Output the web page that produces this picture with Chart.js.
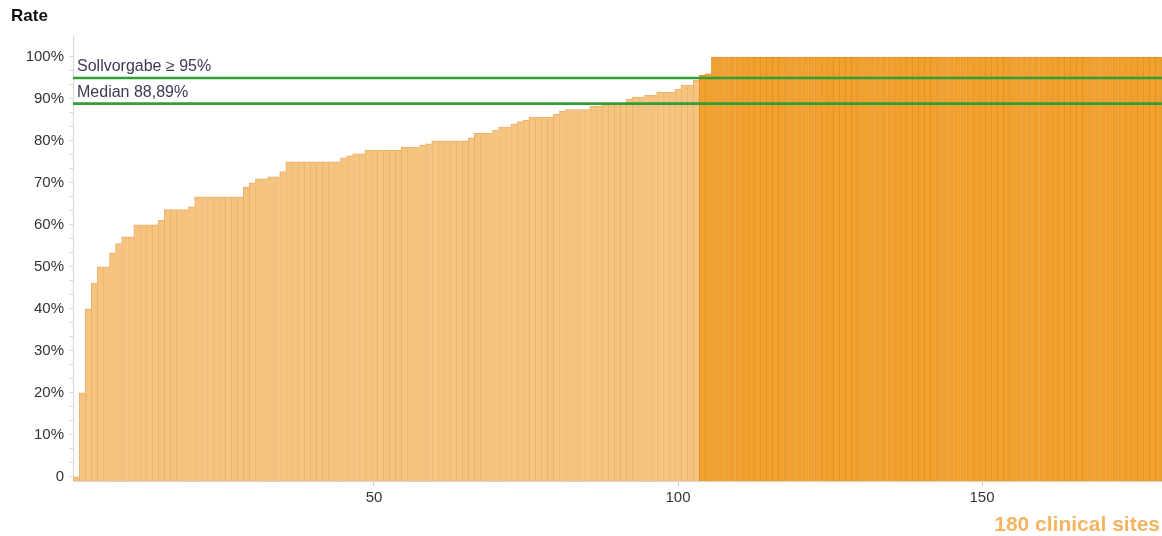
<!DOCTYPE html>
<html>
<head>
<meta charset="utf-8">
<script src="https://cdn.jsdelivr.net/npm/chart.js@4.4.1/dist/chart.umd.min.js"></script>
<style>
  html, body { margin: 0; padding: 0; background: #ffffff; overflow: hidden; }
  #wrap { position: relative; width: 1162px; height: 536px; }
</style>
</head>
<body>
<div id="wrap"><canvas id="c" width="1162" height="536"></canvas></div>
<script>
// ---- data ----
const siteRates = [
  0, 20, 40, 46.15, 50, 50, 53.33, 55.56, 57.14, 57.14,
  60, 60, 60, 60, 61.11, 63.64, 63.64, 63.64, 63.64, 64.29,
  66.67, 66.67, 66.67, 66.67, 66.67, 66.67, 66.67, 66.67, 68.97, 70,
  70.97, 70.97, 71.43, 71.43, 72.73, 75, 75, 75, 75, 75,
  75, 75, 75, 75, 76, 76.47, 76.92, 76.92, 77.78, 77.78,
  77.78, 77.78, 77.78, 77.78, 78.57, 78.57, 78.57, 78.95, 79.31, 80,
  80, 80, 80, 80, 80, 80.77, 81.82, 81.82, 81.82, 82.61,
  83.33, 83.33, 84, 84.62, 85, 85.71, 85.71, 85.71, 85.71, 86.36,
  87.1, 87.5, 87.5, 87.5, 87.5, 88.24, 88.24, 88.89, 88.89, 88.89,
  88.89, 90, 90.48, 90.48, 90.91, 90.91, 91.67, 91.67, 91.67, 92.31,
  93.33, 93.33, 94.44, 95.65, 96, 100, 100, 100, 100, 100,
  100, 100, 100, 100, 100, 100, 100, 100, 100, 100,
  100, 100, 100, 100, 100, 100, 100, 100, 100, 100,
  100, 100, 100, 100, 100, 100, 100, 100, 100, 100,
  100, 100, 100, 100, 100, 100, 100, 100, 100, 100,
  100, 100, 100, 100, 100, 100, 100, 100, 100, 100,
  100, 100, 100, 100, 100, 100, 100, 100, 100, 100,
  100, 100, 100, 100, 100, 100, 100, 100, 100, 100
];
const targetRate = 95;          // Sollvorgabe
const medianRate = 88.89;       // Median
const targetLabel = 'Sollvorgabe \u2265 95%';
const medianLabel = 'Median 88,89%';
const yMajorTicks = [0, 10, 20, 30, 40, 50, 60, 70, 80, 90, 100];
const xTicks = [50, 100, 150];
const yTitle = 'Rate';
const xFootnote = '180 clinical sites';

// ---- styles ----
const LIGHT = '#f6c47f', LIGHT_B = '#e8b06b';
const DARK = '#f2a12e', DARK_B = '#df9024';
const FONT = "'Liberation Sans', Arial, sans-serif";

const points = siteRates.map((v, i) => ({ x: i + 1, y: v }));

// minor tick positions (3 per 10%)
const yAllTicks = [];
for (let k = 0; k <= 30; k++) yAllTicks.push(Math.round(k * 10 / 3 * 1000) / 1000);

const overlay = {
  id: 'overlay',
  afterDatasetsDraw(chart) {
    const { ctx, chartArea, scales } = chart;
    const y = scales.y;
    ctx.save();
    [[targetRate, targetLabel], [medianRate, medianLabel]].forEach(([v, txt]) => {
      const py = y.getPixelForValue(v);
      ctx.strokeStyle = '#2f9f35';
      ctx.lineWidth = 2.6;
      ctx.beginPath();
      ctx.moveTo(chartArea.left, py);
      ctx.lineTo(chartArea.right, py);
      ctx.stroke();
      ctx.fillStyle = '#3b3b55';
      ctx.font = '16px ' + FONT;
      ctx.textAlign = 'left';
      ctx.textBaseline = 'alphabetic';
      ctx.fillText(txt, chartArea.left + 4, py - 6.5);
    });
    ctx.restore();
  },
  afterDraw(chart) {
    const { ctx } = chart;
    ctx.save();
    ctx.fillStyle = '#111111';
    ctx.font = 'bold 17px ' + FONT;
    ctx.textAlign = 'left';
    ctx.textBaseline = 'alphabetic';
    ctx.fillText(yTitle, 11, 21);
    ctx.fillStyle = '#f5b462';
    ctx.font = 'bold 21px ' + FONT;
    ctx.textAlign = 'right';
    ctx.fillText(xFootnote, 1160, 531);
    ctx.restore();
  }
};

new Chart(document.getElementById('c'), {
  type: 'bar',
  data: {
    datasets: [{
      data: points,
      base: -1,
      backgroundColor: c => (c.raw && c.raw.y >= targetRate) ? DARK : LIGHT,
      borderColor: c => (c.raw && c.raw.y >= targetRate) ? DARK_B : LIGHT_B,
      borderWidth: { left: 1, top: 1, right: 0, bottom: 0 },
      borderSkipped: false,
      barPercentage: 1,
      categoryPercentage: 1
    }]
  },
  options: {
    responsive: false,
    animation: false,
    devicePixelRatio: 1,
    layout: { padding: { top: 36, right: 0, bottom: 0, left: 0 } },
    plugins: { legend: { display: false }, tooltip: { enabled: false } },
    scales: {
      x: {
        type: 'linear',
        min: 0.5,
        max: 179.6,
        offset: false,
        afterBuildTicks: s => { s.ticks = xTicks.map(v => ({ value: v })); },
        afterFit: s => { s.height = 55; },
        ticks: {
          color: '#333333',
          font: { family: FONT, size: 15 },
          padding: 3,
          maxRotation: 0,
          callback: v => String(v)
        },
        grid: { offset: false, drawOnChartArea: false, drawTicks: true, tickLength: 5, color: '#cfcfcf' },
        border: { display: true, color: '#d4d4d4' }
      },
      y: {
        min: -1,
        max: 105,
        afterBuildTicks: s => { s.ticks = yAllTicks.map(v => ({ value: v })); },
        afterFit: s => { s.width = 73; },
        ticks: {
          color: '#333333',
          font: { family: FONT, size: 15 },
          padding: 5,
          autoSkip: false,
          callback: v => {
            const m = yMajorTicks.find(t => Math.abs(t - v) < 0.01);
            if (m === undefined) return '';
            return m === 0 ? '0' : m + '%';
          }
        },
        grid: { offset: false, drawOnChartArea: false, drawTicks: true, tickLength: 4, color: '#dadada' },
        border: { display: true, color: '#d6d6d6' }
      }
    }
  },
  plugins: [overlay]
});
</script>
</body>
</html>
